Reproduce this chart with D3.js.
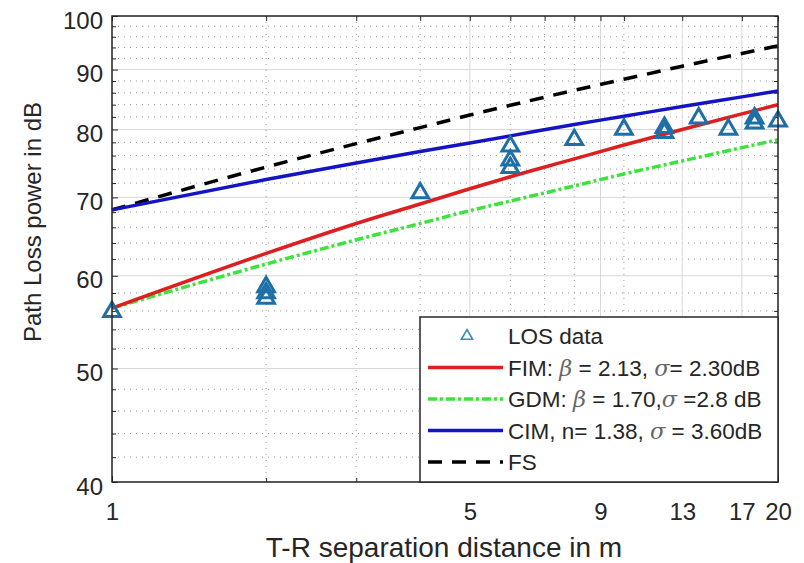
<!DOCTYPE html>
<html>
<head>
<meta charset="utf-8">
<script src="https://cdn.jsdelivr.net/npm/d3@7"></script>
<style>
  body { margin: 0; background: #fff; }
  text { font-family: "Liberation Sans", Arial, sans-serif; fill: #262626; }
</style>
</head>
<body>
<svg id="chart" width="804" height="563"></svg>
<script>
// distances (m) the model curves were read at
const distances = [1, 2, 3, 4, 5, 6, 8, 10, 13, 17, 20];
const fimLoss = [56.3, 62.7, 66.5, 69.1, 71.2, 72.9, 75.5, 77.6, 80.0, 82.5, 84.0];
const gdmLoss = [56.3, 61.4, 64.4, 66.5, 68.2, 69.5, 71.6, 73.3, 75.2, 77.2, 78.4];
const cimLoss = [68.3, 72.5, 74.9, 76.6, 77.9, 79.0, 80.8, 82.1, 83.7, 85.3, 86.3];
const fsLoss  = [68.3, 74.3, 77.8, 80.3, 82.3, 83.9, 86.4, 88.3, 90.6, 92.9, 94.3];

// measured LOS points
const losDist = [1, 2, 2, 2, 4, 6, 6, 6, 8, 10, 12, 12, 14, 16, 18, 18, 20];
const losLoss = [55.9, 57.4, 58.0, 58.7, 70.6, 77.4, 75.3, 74.2, 78.4, 80.0, 79.5, 80.3, 81.8, 80.0, 81.0, 81.8, 81.3];

const xTicks = [1, 5, 9, 13, 17, 20];
const yTicks = [40, 50, 60, 70, 80, 90, 100];
const xMinor = [2, 3, 4, 6, 7, 8, 10];
const yMinor = d3.range(42, 100, 2).filter(v => v % 10 !== 0);

const legendLabels = ["LOS data", "FIM: β = 2.13, σ= 2.30dB", "GDM: β = 1.70,σ =2.8 dB", "CIM, n= 1.38, σ = 3.60dB", "FS"];

const pL = 112, pR = 778, pT = 16, pB = 482;

var svg = d3.select("#chart");
var x = d3.scaleLog().domain([1, 20]).range([pL, pR]);
var y = d3.scaleLog().domain([40, 100]).range([pB, pT]);

// grid
var grid = svg.append("g");
grid.selectAll(".ymin").data(yMinor).enter().append("line")
  .attr("x1", pL).attr("x2", pR)
  .attr("y1", d => y(d)).attr("y2", d => y(d))
  .attr("stroke", "#9a9a9a").attr("stroke-width", 1).attr("stroke-dasharray", "1,5");
grid.selectAll(".xmin").data(xMinor).enter().append("line")
  .attr("y1", pT).attr("y2", pB)
  .attr("x1", d => x(d)).attr("x2", d => x(d))
  .attr("stroke", "#9a9a9a").attr("stroke-width", 1).attr("stroke-dasharray", "1,5");
grid.selectAll(".ymaj").data(yTicks).enter().append("line")
  .attr("x1", pL).attr("x2", pR)
  .attr("y1", d => y(d)).attr("y2", d => y(d))
  .attr("stroke", "#d8d8d8").attr("stroke-width", 1);
grid.selectAll(".xmaj").data(xTicks).enter().append("line")
  .attr("y1", pT).attr("y2", pB)
  .attr("x1", d => x(d)).attr("x2", d => x(d))
  .attr("stroke", "#d8d8d8").attr("stroke-width", 1);

// axes, ticks inward like matlab
function styleAxis(g) {
  g.select(".domain").remove();
  g.selectAll(".tick line").attr("stroke", "#262626");
  g.selectAll(".tick text").attr("font-size", 24).attr("fill", "#262626");
}
svg.append("g").attr("transform", `translate(0,${pB})`)
  .call(d3.axisBottom(x).tickValues(xTicks).tickFormat(d3.format("d")).tickSize(-6).tickPadding(21))
  .call(styleAxis);
svg.append("g").attr("transform", `translate(${pL},0)`)
  .call(d3.axisLeft(y).tickValues(yTicks).tickFormat(d3.format("d")).tickSize(-6).tickPadding(9))
  .call(styleAxis)
  .selectAll(".tick text").attr("dy", "0.5em");
svg.append("g").attr("transform", `translate(0,${pT})`)
  .call(d3.axisTop(x).tickValues(xTicks.concat(xMinor)).tickFormat("").tickSize(-5))
  .call(styleAxis);
svg.append("g").attr("transform", `translate(${pR},0)`)
  .call(d3.axisRight(y).tickValues(yTicks.concat(yMinor)).tickFormat("").tickSize(-4))
  .call(styleAxis);
svg.append("g").attr("transform", `translate(${pL},0)`)
  .call(d3.axisLeft(y).tickValues(yMinor).tickFormat("").tickSize(-4))
  .call(styleAxis);
svg.append("g").attr("transform", `translate(0,${pB})`)
  .call(d3.axisBottom(x).tickValues(xMinor).tickFormat("").tickSize(-4))
  .call(styleAxis);

// lines
var line = d3.line().x(d => x(d[0])).y(d => y(d[1])).curve(d3.curveMonotoneX);
var series = [
  { v: fimLoss, color: "#dd1f1f", dash: null },
  { v: gdmLoss, color: "#3be33b", dash: "9,3,3,3" },
  { v: cimLoss, color: "#1414c4", dash: null },
  { v: fsLoss, color: "#000", dash: "14,10" }
];
var plot = svg.append("g");
series.slice().reverse().forEach(s => {
  plot.append("path")
    .datum(distances.map((d, i) => [d, s.v[i]]))
    .attr("d", line)
    .attr("fill", "none")
    .attr("stroke", s.color)
    .attr("stroke-width", 3.5)
    .attr("stroke-dasharray", s.dash);
});

// LOS triangles
var tri = d3.symbol(d3.symbolTriangle, 120);
plot.selectAll(".los").data(losDist.map((d, i) => [d, losLoss[i]])).enter().append("path")
  .attr("d", tri)
  .attr("transform", d => `translate(${x(d[0])},${y(d[1])})`)
  .attr("fill", "none")
  .attr("stroke", "#1e6fa8")
  .attr("stroke-width", 3);

// box
svg.append("rect").attr("x", pL).attr("y", pT)
  .attr("width", pR - pL).attr("height", pB - pT)
  .attr("fill", "none").attr("stroke", "#262626").attr("stroke-width", 1.5);

// legend
var lg = svg.append("g");
lg.append("rect").attr("x", 420).attr("y", 317).attr("width", pR - 420).attr("height", pB - 317)
  .attr("fill", "#fff").attr("stroke", "#262626").attr("stroke-width", 1.5);
var rowY = [336, 367.5, 399, 430.5, 462];
lg.append("path").attr("d", d3.symbol(d3.symbolTriangle, 55))
  .attr("transform", `translate(467,${rowY[0]})`)
  .attr("fill", "none").attr("stroke", "#3a8fb5").attr("stroke-width", 1.6);
series.forEach((s, i) => {
  lg.append("line").attr("x1", 428).attr("x2", 503)
    .attr("y1", rowY[i + 1]).attr("y2", rowY[i + 1])
    .attr("stroke", s.color).attr("stroke-width", 3.5)
    .attr("stroke-dasharray", s.dash);
});
legendLabels.forEach((t, i) => {
  var txt = lg.append("text").attr("x", 508).attr("y", rowY[i]).attr("dy", "0.36em")
    .attr("font-size", 22.5);
  // greek letters in italic, like matlab tex
  t.split(/([βσ])/).forEach(part => {
    if (!part) return;
    var sp = txt.append("tspan").text(part);
    if (part === "β" || part === "σ") sp.attr("font-style", "italic").attr("font-family", "DejaVu Serif, serif").attr("fill", "#666");
  });
});

// axis titles
svg.append("text").attr("x", 444).attr("y", 557).attr("text-anchor", "middle")
  .attr("font-size", 28).text("T-R separation distance in m");
svg.append("text").attr("transform", "translate(41,222) rotate(-90)").attr("text-anchor", "middle")
  .attr("font-size", 24).text("Path Loss power in dB");
</script>
</body>
</html>
